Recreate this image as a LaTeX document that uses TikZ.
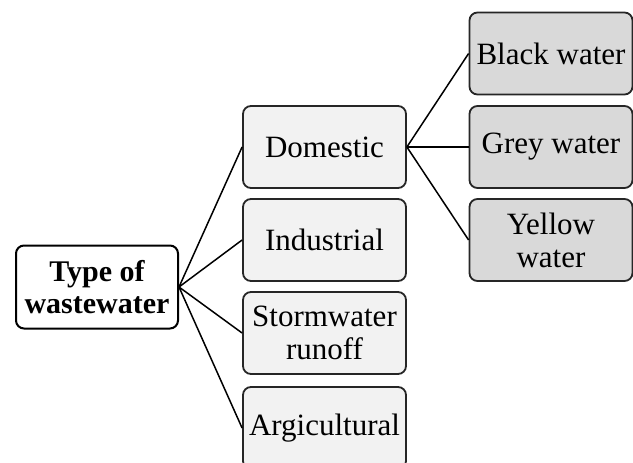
\documentclass[tikz,border=0pt]{standalone}
\usepackage{fontspec}
\setmainfont{Liberation Serif}
\usepackage{tikz}

\tikzset{
  rootbox/.style={draw=black, line width=2pt, rounded corners=8pt, fill=white,
    minimum width=162pt, minimum height=83pt, align=center,
    font=\fontsize{30}{32}\selectfont\bfseries},
  typebox/.style={draw=black!85, line width=1.8pt, rounded corners=8pt, fill=black!5,
    minimum width=163pt, minimum height=82pt, align=center, inner sep=2pt,
    font=\fontsize{31}{33}\selectfont},
  subbox/.style={typebox, fill=black!15},
  link/.style={line width=1.5pt}
}

\begin{document}
\begin{tikzpicture}[x=1pt,y=-1pt]
                \useasboundingbox (0,0) rectangle (633,463);
                % root
                \node[rootbox] (root) at (97,287) {Type of\\wastewater};
                % types
                \node[typebox] (dom) at (324.5,147) {Domestic};
                \node[typebox] (ind) at (324.5,240) {Industrial};
                \node[typebox] (storm) at (324.5,333) {Stormwater\\runoff};
                \node[typebox] (agr) at (324.5,428) {Argicultural};
                % domestic kinds
                \node[subbox] (black) at (551,53.5) {Black water};
                \node[subbox] (grey) at (551,147) {Grey water};
                \node[subbox] (yellow) at (551,240) {Yellow\\water};
                \foreach \t in {dom,ind,storm,agr}
                    \draw[link] (root.east) -- (\t.west);
                \foreach \t in {black,grey,yellow}
                    \draw[link] (dom.east) -- (\t.west);
            \end{tikzpicture}
\end{document}
